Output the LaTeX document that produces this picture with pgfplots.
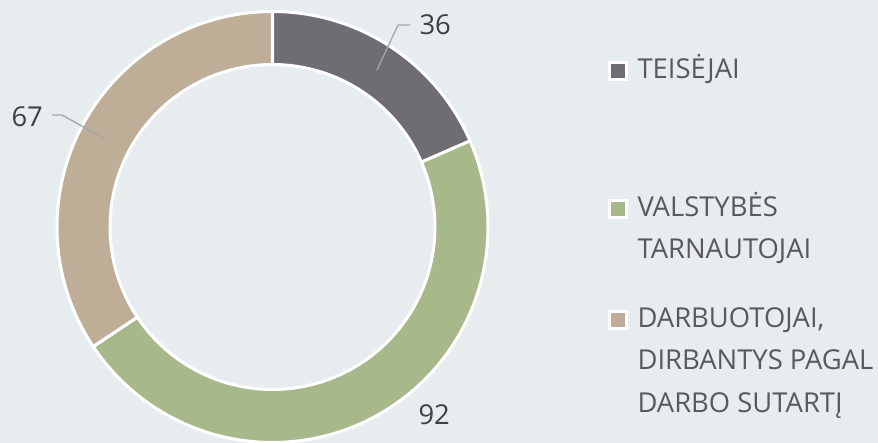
\documentclass[border=0pt]{standalone}
\usepackage{pgfplots}
\pgfplotsset{compat=1.18}
\usepackage{pgfplotstable}
\usepackage{fontspec}
\setmainfont{Open Sans}
\definecolor{bg}{HTML}{E7ECEF}
\definecolor{cA}{HTML}{6F6D73}
\definecolor{cB}{HTML}{A7B98A}
\definecolor{cC}{HTML}{BEAE98}
\definecolor{lbl}{HTML}{404040}
\definecolor{leg}{HTML}{595959}
\definecolor{lead}{HTML}{A6A6A6}

\pgfplotstableread{
idx value
0 36
1 92
2 67
}\donutdata
\pgfplotstablegetelem{0}{value}\of\donutdata \let\vA\pgfplotsretval
\pgfplotstablegetelem{1}{value}\of\donutdata \let\vB\pgfplotsretval
\pgfplotstablegetelem{2}{value}\of\donutdata \let\vC\pgfplotsretval
\pgfmathsetmacro\tot{\vA+\vB+\vC}
\pgfmathsetmacro\aA{90}
\pgfmathsetmacro\aB{\aA-360*(\vA/\tot)}
\pgfmathsetmacro\aC{\aB-360*(\vB/\tot)}
\pgfmathsetmacro\aD{\aC-360*(\vC/\tot)}
\def\cx{272.5}
\def\cy{216}
\def\Ro{215.5}
\def\Ri{162.5}

% ring slice from angle #1 to #2 in colour #3
\newcommand{\slice}[3]{%
\addplot[fill=#3, draw=white, line width=3bp, domain=0:3, samples=241, variable=\t]
 ({ (\t<1.5) ? (\cx+\Ro*cos(#1+(#2-#1)*min(\t,1))) : (\cx+\Ri*cos(#2+(#1-#2)*max(\t-2,0))) },
  { (\t<1.5) ? (\cy+\Ro*sin(#1+(#2-#1)*min(\t,1))) : (\cy+\Ri*sin(#2+(#1-#2)*max(\t-2,0))) }) -- cycle;
}

\begin{document}
\begin{tikzpicture}
\begin{axis}[
  width=878bp, height=443bp, scale only axis,
  xmin=0, xmax=878, ymin=0, ymax=443,
  axis line style={draw=none},
  xtick=\empty, ytick=\empty,
  axis background/.style={fill=bg},
  clip=true,
  every node/.style={inner sep=0pt, outer sep=0pt},
]
\slice{\aA}{\aB}{cA}
\slice{\aB}{\aC}{cB}
\slice{\aC}{\aD}{cC}

% leader lines
\addplot[lead, line width=1.3bp, mark=none] coordinates {(377,373) (398,418) (410,418)};
\addplot[lead, line width=1.3bp, mark=none] coordinates {(52,328) (62,328) (105,304)};

% data labels
\node[anchor=base west, text=lbl, font=\fontsize{27.5}{33}\selectfont] at (axis cs:416,408) {36};
\node[anchor=base west, text=lbl, font=\fontsize{27.5}{33}\selectfont] at (axis cs:415,19) {92};
\node[anchor=base west, text=lbl, font=\fontsize{27.5}{33}\selectfont] at (axis cs:8,316) {67};

% legend markers
\addplot[only marks, mark=square*, mark size=8.7bp, mark options={fill=cA, draw=white, line width=2.5bp}] coordinates {(618,372)};
\addplot[only marks, mark=square*, mark size=8.7bp, mark options={fill=cB, draw=white, line width=2.5bp}] coordinates {(618,234)};
\addplot[only marks, mark=square*, mark size=8.7bp, mark options={fill=cC, draw=white, line width=2.5bp}] coordinates {(618,123)};

% legend text
\begin{scope}[every node/.append style={anchor=base west, text=leg, font=\fontsize{27.5}{33}\selectfont}]
\node at (axis cs:634,364) {TEISĖJAI};
\node at (axis cs:634,226) {VALSTYBĖS};
\node at (axis cs:634,184) {TARNAUTOJAI};
\node at (axis cs:634,115) {DARBUOTOJAI,};
\node at (axis cs:634,73) {DIRBANTYS PAGAL};
\node at (axis cs:634,31) {DARBO SUTARTĮ};
\end{scope}
\end{axis}
\pgfresetboundingbox
\useasboundingbox (current axis.south west) rectangle (current axis.north east);
\end{tikzpicture}
\end{document}
